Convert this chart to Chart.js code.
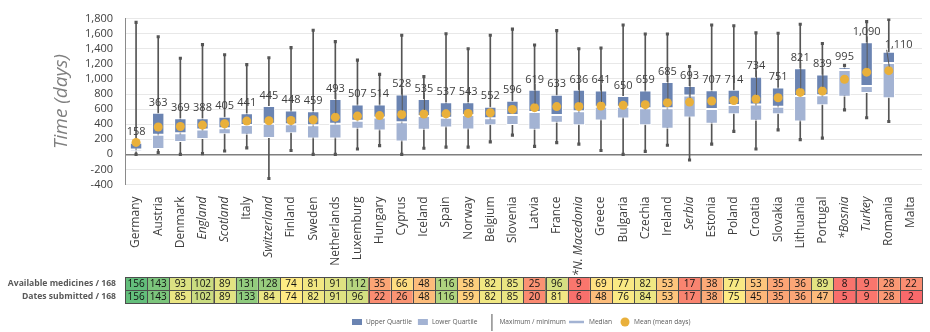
<!DOCTYPE html>
<html>
<head>
<meta charset="utf-8">
<script src="https://cdn.jsdelivr.net/npm/chart.js@4.4.0/dist/chart.umd.min.js"></script>
<style>
    body { margin: 0; background: #ffffff; }
</style>
</head>
<body>
<canvas id="ChartCanvas" width="930" height="332"></canvas>
<script>
// Countries along the x axis (Malta has no box)
const countries = ['Germany', 'Austria', 'Denmark', 'England', 'Scotland', 'Italy', 'Switzerland', 'Finland', 'Sweden',
    'Netherlands', 'Luxemburg', 'Hungary', 'Cyprus', 'Iceland', 'Spain', 'Norway', 'Belgium', 'Slovenia', 'Latvia',
    'France', '*N. Macedonia', 'Greece', 'Bulgaria', 'Czechia', 'Ireland', 'Serbia', 'Estonia', 'Poland', 'Croatia',
    'Slovakia', 'Lithuania', 'Portugal', '*Bosnia', 'Turkey', 'Romania', 'Malta'];

const italicCountries = ['England', 'Scotland', 'Switzerland', '*N. Macedonia', 'Serbia', '*Bosnia', 'Turkey'];

// Time to availability, days
const minimum  = [0, 25, 0, 10, 45, 85, -320, 50, 0, 0, 70, 115, 0, 80, 95, 95, 165, 255, 105, 155, 135, 50, 0, 40, 120, -75, 135, 305, 70, 325, 195, 215, 590, 485, 435, null];
const lowerQ   = [35, 70, 165, 205, 265, 260, 215, 280, 210, 210, 340, 315, 170, 325, 355, 330, 385, 390, 325, 420, 385, 450, 475, 385, 340, 490, 405, 530, 445, 530, 435, 650, 765, 815, 745, null];
const median   = [65, 260, 280, 330, 345, 390, 405, 400, 385, 405, 445, 490, 425, 510, 485, 520, 480, 520, 560, 520, 570, 630, 630, 610, 610, 780, 600, 655, 660, 630, 775, 785, 1120, 905, 1210, null];
const upperQ   = [155, 550, 480, 480, 500, 545, 640, 580, 570, 735, 660, 660, 795, 735, 690, 690, 630, 710, 855, 790, 855, 845, 775, 845, 960, 905, 850, 855, 1030, 885, 1140, 1060, 1155, 1485, 1360, null];
const maximum  = [1750, 1560, 1275, 1455, 1320, 1190, 1280, 1415, 1645, 1495, 1250, 1060, 1580, 1030, 1600, 1400, 1580, 1660, 1450, 1640, 1400, 1410, 1715, 1595, 1595, 1165, 1715, 1705, 1610, 1605, 1725, 1470, 1180, 1760, 1790, null];
const meanDays = [158, 363, 369, 388, 405, 441, 445, 448, 459, 493, 507, 514, 528, 535, 537, 543, 552, 596, 619, 633, 636, 641, 650, 659, 685, 693, 707, 714, 734, 751, 821, 839, 995, 1090, 1110, null];

// Table below the chart
const availableMedicines = [156, 143, 93, 102, 89, 131, 128, 74, 81, 91, 112, 35, 66, 48, 116, 58, 82, 85, 25, 96, 9, 69, 77, 82, 53, 17, 38, 77, 53, 35, 36, 89, 8, 9, 28, 22];
const datesSubmitted     = [156, 143, 85, 102, 89, 133, 84, 74, 82, 91, 96, 22, 26, 48, 116, 59, 82, 85, 20, 81, 6, 48, 76, 84, 53, 17, 38, 75, 45, 35, 36, 47, 5, 9, 28, 2];
const tableRows = [
    { label: 'Available medicines / 168', values: availableMedicines },
    { label: 'Dates submitted / 168',     values: datesSubmitted }
];

const yMin = -400, yMax = 1800, yStep = 200;

const FONT       = '"Open Sans", "Noto Sans", sans-serif';
const DARK_BLUE  = '#6b84b2';
const LIGHT_BLUE = '#a3b3d3';
const MEAN_COL   = '#e9b03b';
const WHISKER    = '#555555';

Initialize();

function Initialize()
{
    const ctx = document.getElementById('ChartCanvas').getContext('2d');

    const range = (a, b) => countries.map((_, i) => a[i] == null ? null : [a[i], b[i]]);

    const chart = new Chart(ctx,
    {
        type: 'bar',
        data:
        {
            labels: countries,
            datasets:
            [
                {
                    type: 'line',
                    label: 'Mean (mean days)',
                    data: meanDays,
                    showLine: false,
                    pointRadius: 4.5,
                    pointHoverRadius: 4.5,
                    pointBackgroundColor: MEAN_COL,
                    pointBorderWidth: 0,
                    order: 0
                },
                {
                    label: 'Upper Quartile',
                    data: range(median, upperQ),
                    backgroundColor: DARK_BLUE,
                    borderColor: '#ffffff',
                    borderWidth: 1,
                    borderSkipped: false,
                    grouped: false,
                    barPercentage: 0.56,
                    categoryPercentage: 1,
                    order: 1
                },
                {
                    label: 'Lower Quartile',
                    data: range(lowerQ, median),
                    backgroundColor: LIGHT_BLUE,
                    borderColor: '#ffffff',
                    borderWidth: 1,
                    borderSkipped: false,
                    grouped: false,
                    barPercentage: 0.56,
                    categoryPercentage: 1,
                    order: 1
                },
                {
                    label: 'Maximum / minimum',
                    data: range(minimum, maximum),
                    backgroundColor: WHISKER,
                    barThickness: 1,
                    grouped: false,
                    order: 3
                },
                {
                    type: 'line',
                    label: 'max',
                    data: maximum,
                    showLine: false,
                    pointStyle: 'rect',
                    pointRadius: 2.2,
                    pointBackgroundColor: WHISKER,
                    pointBorderWidth: 0,
                    order: 2
                },
                {
                    type: 'line',
                    label: 'min',
                    data: minimum,
                    showLine: false,
                    pointStyle: 'rect',
                    pointRadius: 2.2,
                    pointBackgroundColor: WHISKER,
                    pointBorderWidth: 0,
                    order: 2
                }
            ]
        },
        options:
        {
            responsive: false,
            animation: false,
            layout: { padding: { left: 50, top: 3, right: 8, bottom: 0 } },
            plugins:
            {
                legend: { display: false },
                tooltip: { enabled: false }
            },
            scales:
            {
                x:
                {
                    grid: { display: false },
                    border: { display: false },
                    ticks:
                    {
                        autoSkip: false,
                        maxRotation: 90,
                        minRotation: 90,
                        padding: 4,
                        color: '#404040',
                        font: c => ({ family: FONT, size: 12, style: italicCountries.includes(countries[c.index]) ? 'italic' : 'normal' })
                    },
                    afterFit: scale => { scale.height = 147.5; }
                },
                y:
                {
                    min: yMin,
                    max: yMax,
                    ticks:
                    {
                        stepSize: yStep,
                        autoSkip: false,
                        color: '#404040',
                        padding: 12,
                        font: { family: FONT, size: 11 },
                        callback: v => v.toLocaleString('en-US')
                    },
                    grid:
                    {
                        drawTicks: false,
                        color: c => c.tick.value === 0 ? '#7f7f7f' : '#e8e8e8',
                        lineWidth: c => c.tick.value === 0 ? 1.5 : 1
                    },
                    border: { display: true, color: '#8a8a8a' },
                    title:
                    {
                        display: true,
                        text: 'Time (days)',
                        color: '#7f7f7f',
                        padding: 0,
                        font: { family: FONT, size: 19, style: 'italic' }
                    },
                    afterFit: scale => { scale.width = 75; }
                }
            }
        },
        plugins: [extrasPlugin()]
    });
}

function extrasPlugin()
{
    return {
        id: 'extras',
        afterDatasetsDraw(chart)
        {
            const { ctx, scales: { x, y } } = chart;
            ctx.save();
            ctx.font = '11px ' + FONT;
            ctx.textAlign = 'center';
            ctx.textBaseline = 'bottom';
            let prev = null;
            meanDays.forEach((m, i) =>
            {
                if (m == null) return;
                const text = m.toLocaleString('en-US');
                const w = ctx.measureText(text).width;
                const px = x.getPixelForValue(i);
                let cx = px;
                let bottom = y.getPixelForValue(upperQ[i]) - 5;
                const top = bottom - 13;
                let moved = false;
                // push label right if it would sit on the previous one
                if (prev && cx - w / 2 < prev.right + 2 && top < prev.bottom && bottom > prev.top)
                {
                    cx = prev.right + 4 + w / 2;
                    bottom += 4;
                    moved = true;
                }
                const dotY = y.getPixelForValue(m);
                if (moved || dotY - bottom > 20)
                {
                    ctx.strokeStyle = '#595959';
                    ctx.lineWidth = 1;
                    ctx.beginPath();
                    ctx.moveTo(moved ? cx - w / 2 + 2 : cx + 0.5, bottom - 1);
                    ctx.lineTo(px + 0.5, dotY - 4);
                    ctx.stroke();
                }
                ctx.fillStyle = '#404040';
                ctx.fillText(text, cx, bottom);
                prev = { right: cx + w / 2, top: bottom - 13, bottom: bottom };
            });
            ctx.restore();
        },
        afterDraw(chart)
        {
            drawTable(chart);
            drawLegend(chart);
        }
    };
}

function scaleColor(v, lo, mid, hi)
{
    const red = [248, 105, 107], yellow = [255, 235, 132], green = [99, 190, 123];
    let a, b, t;
    if (v <= mid) { a = red; b = yellow; t = (v - lo) / (mid - lo); }
    else          { a = yellow; b = green; t = (v - mid) / (hi - mid); }
    t = Math.max(0, Math.min(1, t));
    const c = a.map((ch, k) => Math.round(ch + (b[k] - ch) * t));
    return `rgb(${c[0]}, ${c[1]}, ${c[2]})`;
}

function drawTable(chart)
{
    const { ctx, scales: { x } } = chart;
    const all = availableMedicines.concat(datesSubmitted).slice().sort((a, b) => a - b);
    const lo = all[0], hi = all[all.length - 1];
    const mid = (all[all.length / 2 - 1] + all[all.length / 2]) / 2;
    const half = (x.getPixelForValue(1) - x.getPixelForValue(0)) / 2;
    const top = 277, rowH = 13;

    ctx.save();
    tableRows.forEach((row, r) =>
    {
        const y0 = top + r * rowH;
        ctx.font = 'bold 8.6px ' + FONT;
        ctx.fillStyle = '#595959';
        ctx.textAlign = 'right';
        ctx.textBaseline = 'middle';
        ctx.fillText(row.label, 116, y0 + rowH / 2);

        row.values.forEach((v, i) =>
        {
            const cx = x.getPixelForValue(i);
            ctx.fillStyle = scaleColor(v, lo, mid, hi);
            ctx.fillRect(cx - half, y0, half * 2, rowH);
            ctx.strokeStyle = '#4d4d4d';
            ctx.lineWidth = 1;
            ctx.strokeRect(Math.round(cx - half) + 0.5, y0 + 0.5, Math.round(half * 2), rowH);
            ctx.fillStyle = '#111111';
            ctx.font = '10px ' + FONT;
            ctx.textAlign = 'center';
            ctx.fillText(String(v), cx, y0 + rowH / 2 + 0.5);
        });
    });
    ctx.restore();
}

function drawLegend(chart)
{
    const ctx = chart.ctx;
    const cy = 322;
    let lx = 352;
    ctx.save();
    ctx.font = '6.6px ' + FONT;
    ctx.textBaseline = 'middle';
    ctx.textAlign = 'left';

    const text = (t) => { ctx.fillStyle = '#595959'; ctx.fillText(t, lx, cy); lx += ctx.measureText(t).width; };

    ctx.fillStyle = DARK_BLUE;
    ctx.fillRect(lx, cy - 3, 10, 6);
    lx += 14;
    text('Upper Quartile');
    lx += 6;

    ctx.fillStyle = LIGHT_BLUE;
    ctx.fillRect(lx, cy - 3, 10, 6);
    lx += 14;
    text('Lower Quartile');
    lx += 14;

    ctx.strokeStyle = WHISKER;
    ctx.lineWidth = 1;
    ctx.beginPath();
    ctx.moveTo(lx + 0.5, cy - 8);
    ctx.lineTo(lx + 0.5, cy + 9);
    ctx.stroke();
    lx += 8;
    text('Maximum / minimum');
    lx += 3;

    ctx.strokeStyle = LIGHT_BLUE;
    ctx.lineWidth = 2.5;
    ctx.beginPath();
    ctx.moveTo(lx, cy);
    ctx.lineTo(lx + 15, cy);
    ctx.stroke();
    lx += 20;
    text('Median');
    lx += 13;

    ctx.fillStyle = MEAN_COL;
    ctx.beginPath();
    ctx.arc(lx, cy, 4.5, 0, Math.PI * 2);
    ctx.fill();
    lx += 9;
    text('Mean (mean days)');
    ctx.restore();
}
</script>
</body>
</html>
